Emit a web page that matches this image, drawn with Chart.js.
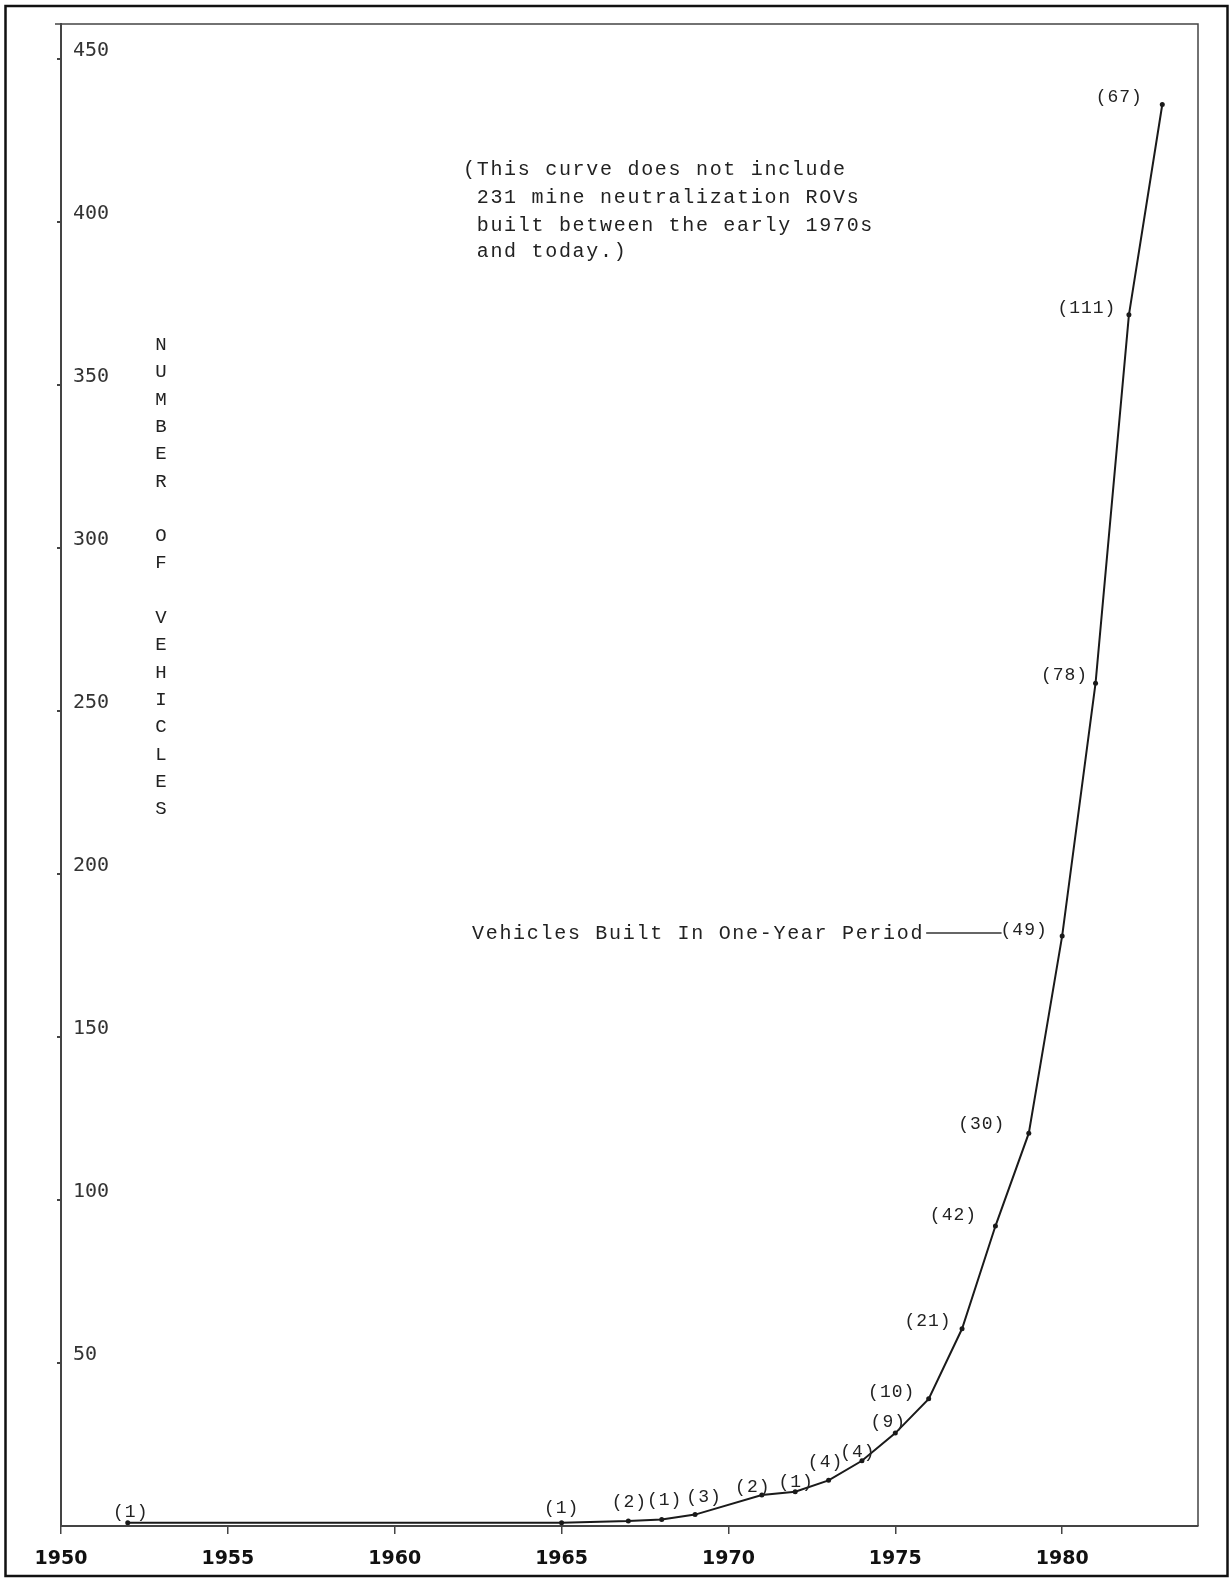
<!DOCTYPE html>
<html>
<head>
<meta charset="utf-8">
<script src="https://cdn.jsdelivr.net/npm/chart.js@4.4.1/dist/chart.umd.min.js"></script>
<style>
  html, body { margin: 0; padding: 0; background: #fff; }
  canvas { display: block; }
</style>
</head>
<body>
<canvas id="rovChart" width="1232" height="1581"></canvas>
<script>
// cumulative ROVs built
const years = [1952, 1965, 1967, 1968, 1969, 1971, 1972, 1973, 1974, 1975, 1976, 1977, 1978, 1979, 1980, 1981, 1982, 1983];
const totalVehicles = [1, 1, 1.5, 2, 3.5, 9.5, 10.5, 14, 20, 28.5, 39, 60.5, 92, 120.5, 181, 258.5, 371.5, 436];
// vehicles built in that one-year period (the bracketed numbers)
const builtPerYear = ['(1)', '(1)', '(2)', '(1)', '(3)', '(2)', '(1)', '(4)', '(4)', '(9)', '(10)', '(21)', '(42)', '(30)', '(49)', '(78)', '(111)', '(67)'];

const xTickYears = [1950, 1955, 1960, 1965, 1970, 1975, 1980];
const yTickValues = [50, 100, 150, 200, 250, 300, 350, 400, 450];

const yTitle = 'NUMBER OF VEHICLES';
const noteLines = [
    '(This curve does not include',
    ' 231 mine neutralization ROVs',
    ' built between the early 1970s',
    ' and today.)'
];
const periodNote = 'Vehicles Built In One-Year Period';

// where each bracketed count sits relative to its point, in px
const labelOffsets = [
    [3, -11], [0, -15], [1, -19], [3, -19], [9, -17], [-9, -8], [1, -10], [-3, -18], [-4, -9],
    [-7, -11], [-37, -7], [-34, -8], [-42, -11], [-47, -9], [-38, -6], [-31, -8], [-42, -7], [-43, -7]
];

const TYPE_FONT = '"Liberation Mono", "DejaVu Sans Mono", monospace';
const INK = '#222';

function spacing(ctx, px) {
    if ('letterSpacing' in ctx) ctx.letterSpacing = px + 'px';
}

const paperPlugin = {
    id: 'paper',
    beforeDraw(chart) {
        const ctx = chart.ctx;
        ctx.save();
        ctx.fillStyle = '#fff';
        ctx.fillRect(0, 0, chart.width, chart.height);
        ctx.restore();
    },
    afterDraw(chart) {
        const ctx = chart.ctx;
        const a = chart.chartArea;
        ctx.save();
        // outer frame
        ctx.strokeStyle = '#111';
        ctx.lineWidth = 2.5;
        ctx.strokeRect(5.5, 6, 1222, 1570);
        // top and right edge of the plot box
        ctx.strokeStyle = '#444';
        ctx.lineWidth = 1.5;
        ctx.beginPath();
        ctx.moveTo(a.left - 6, a.top);
        ctx.lineTo(a.right, a.top);
        ctx.lineTo(a.right, a.bottom);
        ctx.stroke();
        ctx.restore();
    }
};

const textPlugin = {
    id: 'typedText',
    afterDatasetsDraw(chart) {
        const ctx = chart.ctx;
        const meta = chart.getDatasetMeta(0);
        ctx.save();
        ctx.fillStyle = INK;
        ctx.textBaseline = 'middle';

        // bracketed counts next to the points
        ctx.font = '18px ' + TYPE_FONT;
        ctx.textAlign = 'center';
        spacing(ctx, 1);
        let label1980 = null;
        meta.data.forEach((pt, i) => {
            const [dx, dy] = labelOffsets[i];
            ctx.fillText(builtPerYear[i], pt.x + dx, pt.y + dy);
            if (years[i] === 1980) {
                label1980 = { x: pt.x + dx - ctx.measureText(builtPerYear[i]).width / 2, y: pt.y + dy };
            }
        });

        // note at top
        ctx.font = '20px ' + TYPE_FONT;
        ctx.textAlign = 'left';
        spacing(ctx, 1.7);
        const noteY = [170, 198, 226, 252];
        noteLines.forEach((line, i) => ctx.fillText(line, 463, noteY[i]));

        // period note with leader to the 1980 count
        const py = label1980 ? label1980.y + 4 : 934;
        ctx.fillText(periodNote, 472, py);
        const endX = 472 + ctx.measureText(periodNote).width;
        if (label1980) {
            ctx.strokeStyle = '#333';
            ctx.lineWidth = 1.5;
            ctx.beginPath();
            ctx.moveTo(endX + 2, py - 1);
            ctx.lineTo(label1980.x + 1, py - 1);
            ctx.stroke();
        }

        // stacked axis title
        ctx.font = '19px ' + TYPE_FONT;
        ctx.textAlign = 'center';
        spacing(ctx, 0);
        [...yTitle].forEach((ch, i) => {
            if (ch !== ' ') ctx.fillText(ch, 161, 345 + i * 27.3);
        });
        ctx.restore();
    }
};

new Chart(document.getElementById('rovChart'), {
    type: 'line',
    data: {
        datasets: [{
            data: years.map((yr, i) => ({ x: yr, y: totalVehicles[i] })),
            borderColor: '#1a1a1a',
            borderWidth: 2,
            pointRadius: 2.5,
            pointBackgroundColor: '#1a1a1a',
            pointBorderWidth: 0,
            tension: 0
        }]
    },
    options: {
        responsive: false,
        animation: false,
        events: [],
        layout: { padding: { left: 0, top: 18, right: 34, bottom: 0 } },
        plugins: {
            legend: { display: false },
            tooltip: { enabled: false }
        },
        scales: {
            x: {
                type: 'linear',
                min: 1950,
                max: 1984.07,
                afterBuildTicks: (s) => { s.ticks = xTickYears.map(v => ({ value: v })); },
                afterFit: (s) => { s.height = 55; },
                grid: { drawOnChartArea: false, drawTicks: true, tickLength: 8, color: '#444', lineWidth: 1.5 },
                border: { display: true, color: '#444', width: 2 },
                ticks: {
                    autoSkip: false,
                    maxRotation: 0,
                    padding: 14,
                    color: '#111',
                    font: { family: '"DejaVu Sans", sans-serif', weight: 'bold', size: 19 },
                    callback: (v) => String(v)
                }
            },
            y: {
                min: 0,
                max: 460.7,
                afterBuildTicks: (s) => { s.ticks = yTickValues.map(v => ({ value: v })); },
                afterFit: (s) => { s.width = 61; },
                grid: { drawOnChartArea: false, drawTicks: true, tickLength: 4, color: '#444', lineWidth: 2 },
                border: { display: true, color: '#444', width: 2 },
                ticks: {
                    mirror: true,
                    padding: 12,
                    labelOffset: -8,
                    color: '#333',
                    font: { family: '"DejaVu Sans Mono", monospace', size: 20 },
                    callback: (v) => String(v)
                }
            }
        }
    },
    plugins: [paperPlugin, textPlugin]
});
</script>
</body>
</html>
